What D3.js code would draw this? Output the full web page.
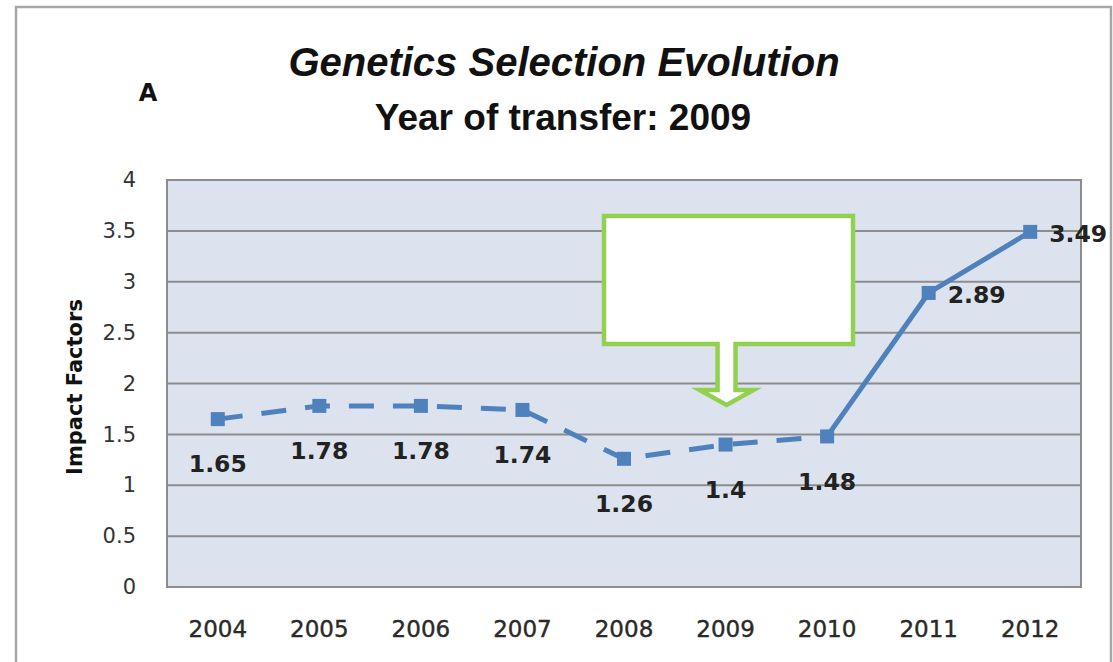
<!DOCTYPE html>
<html><head><meta charset="utf-8">
<script src="https://cdn.jsdelivr.net/npm/d3@7/dist/d3.min.js"></script>
<style>body{margin:0;background:#fff;}svg{display:block;}</style>
</head><body>
<script>
const years = ["2004","2005","2006","2007","2008","2009","2010","2011","2012"];
const impact = [1.65,1.78,1.78,1.74,1.26,1.4,1.48,2.89,3.49];
const yTicks = [0,0.5,1,1.5,2,2.5,3,3.5,4];
const labelPos = ["below","below","below","below","below","below","below","right","right"];
const transferYear = "2009";
const dashedUntil = "2010";

const W=1113,H=662;
const NUM="'DejaVu Sans', Verdana, sans-serif";
const TXT="'Liberation Sans', Arial, sans-serif";
const svg=d3.select("body").append("svg").attr("width",W).attr("height",H);
// outer frame
svg.append("rect").attr("x",16).attr("y",7).attr("width",1095).attr("height",670)
  .attr("fill","#fff").attr("stroke","#a6a6a6").attr("stroke-width",2.5);

const L=167,R=1081,T=180,B=587;
const x=d3.scaleBand().domain(years).range([L,R]);
const y=d3.scaleLinear().domain([0,4]).range([B,T]);

svg.append("rect").attr("x",L).attr("y",T).attr("width",R-L).attr("height",B-T)
  .attr("fill","#dce3ef").attr("stroke","#8c8c8c").attr("stroke-width",2);

svg.append("g").selectAll("line").data(yTicks).join("line")
  .attr("x1",L).attr("x2",R).attr("y1",d=>y(d)).attr("y2",d=>y(d))
  .attr("stroke","#8c8c8c").attr("stroke-width",2);

// y axis
const ya=svg.append("g").attr("transform",`translate(${L},0)`)
  .call(d3.axisLeft(y).tickValues(yTicks).tickSize(0).tickPadding(31).tickFormat(d=>String(d)));
ya.select(".domain").remove();
ya.selectAll("text").style("font-size","21px").attr("fill","#333").style("font-family",NUM);

// x axis
const xa=svg.append("g").attr("transform",`translate(0,${B})`)
  .call(d3.axisBottom(x).tickSize(0).tickPadding(42));
xa.select(".domain").remove();
xa.selectAll("text").style("font-size","23px").attr("fill","#2a2a2a").style("font-family",NUM)
  .attr("stroke","#2a2a2a").attr("stroke-width",0.4).attr("dy","0.35em");

const cx=d=>x(d)+x.bandwidth()/2;
const pts=years.map((yr,i)=>({yr,v:impact[i],pos:labelPos[i]}));
const split=years.indexOf(dashedUntil);
const line=d3.line().x(d=>cx(d.yr)).y(d=>y(d.v));
const col="#4f81bd";
svg.append("path").attr("d",line(pts.slice(0,split+1))).attr("fill","none")
  .attr("stroke",col).attr("stroke-width",5).attr("stroke-dasharray","25,19");
svg.append("path").attr("d",line(pts.slice(split))).attr("fill","none")
  .attr("stroke",col).attr("stroke-width",5);
svg.append("g").selectAll("rect").data(pts).join("rect")
  .attr("x",d=>cx(d.yr)-7).attr("y",d=>y(d.v)-7).attr("width",14).attr("height",14).attr("fill",col);

svg.append("g").selectAll("text").data(pts).join("text")
  .attr("x",d=>d.pos==="right"?cx(d.yr)+19:cx(d.yr))
  .attr("y",d=>d.pos==="right"?y(d.v)+2:y(d.v)+45)
  .attr("dy","0.35em")
  .attr("text-anchor",d=>d.pos==="right"?"start":"middle")
  .style("font-family",NUM).style("font-size","23.5px").style("font-weight","bold").attr("fill","#222")
  .text(d=>d.v);

// titles
svg.append("text").attr("x",564).attr("y",62).attr("dy","0.35em").attr("text-anchor","middle")
  .style("font-family",TXT).style("font-size","40px").style("font-weight","bold").style("font-style","italic").attr("fill","#111")
  .text("Genetics Selection Evolution");
svg.append("text").attr("x",563).attr("y",117).attr("dy","0.35em").attr("text-anchor","middle")
  .style("font-family",TXT).style("font-size","37px").style("font-weight","bold").attr("fill","#111")
  .text("Year of transfer: " + transferYear);
svg.append("text").attr("x",148).attr("y",93).attr("dy","0.35em").attr("text-anchor","middle")
  .style("font-family",NUM).style("font-size","24px").style("font-weight","bold").attr("fill","#111").text("A");
svg.append("text").attr("transform","translate(75,387) rotate(-90)").attr("dy","0.35em")
  .attr("text-anchor","middle").style("font-family",NUM).style("font-size","21px").style("font-weight","bold").attr("fill","#111")
  .text("Impact Factors");

// callout pointing to transfer year
const ax=cx(transferYear)+1;
const bx0=604,bx1=853,by0=216,by1=344, sw=9, hw=27, stemBot=390, tip=405;
const p=d3.path();
p.moveTo(bx0,by0);p.lineTo(bx1,by0);p.lineTo(bx1,by1);p.lineTo(ax+sw,by1);p.lineTo(ax+sw,stemBot);
p.lineTo(ax+hw,stemBot);p.lineTo(ax,tip);p.lineTo(ax-hw,stemBot);p.lineTo(ax-sw,stemBot);p.lineTo(ax-sw,by1);
p.lineTo(bx0,by1);p.closePath();
svg.append("path").attr("d",p.toString()).attr("fill","#fff").attr("stroke","#92d050").attr("stroke-width",4.5)
  .attr("stroke-linejoin","miter");
</script>
</body></html>
